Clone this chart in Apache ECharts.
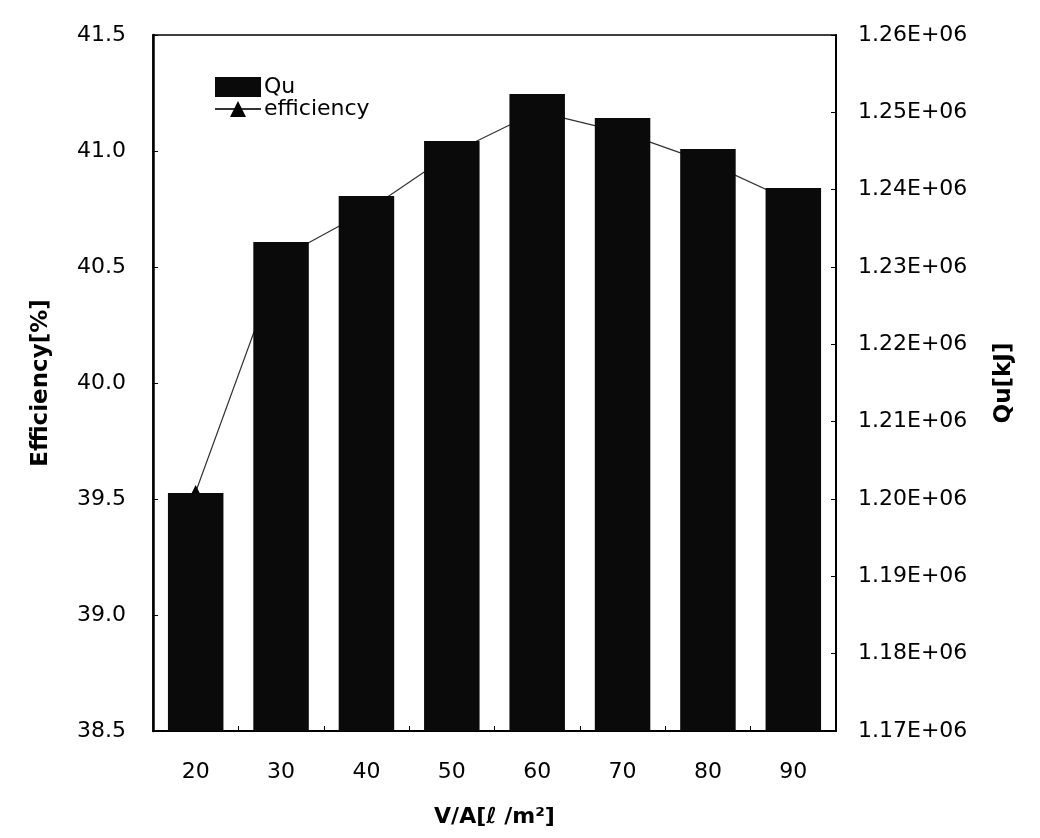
<!DOCTYPE html>
<html>
<head>
<meta charset="utf-8">
<script src="https://cdn.jsdelivr.net/npm/echarts@6/dist/echarts.min.js"></script>
<style>
html,body{margin:0;padding:0;background:#fff;}
#chart{width:1040px;height:838px;}
</style>
</head>
<body>
<div id="chart"></div>
<script>
const categories = ['20','30','40','50','60','70','80','90'];
const quValues = [1200780, 1233230, 1239180, 1246290, 1252370, 1249270, 1245260, 1240220];
const efficiencyValues = [39.53, 40.54, 40.74, 40.99, 41.17, 41.08, 40.95, 40.78];

const FONT = 'DejaVu Sans';
const chart = echarts.init(document.getElementById('chart'), null, {renderer: 'canvas'});
chart.setOption({
  backgroundColor: '#fff',
  animation: false,
  textStyle: {fontFamily: FONT, color: '#000'},
  grid: {left: 153, right: 204, top: 35, bottom: 107, show: true, borderColor: '#000', borderWidth: 1.5, backgroundColor: 'transparent'},
  legend: {
    orient: 'vertical', left: 209, top: 71, itemGap: 0,
    itemWidth: 46, itemHeight: 20,
    data: [{name: 'Qu', icon: 'rect'}, {name: 'efficiency'}],
    textStyle: {fontFamily: FONT, fontSize: 22, color: '#000', padding: [0,0,0,-2]}
  },
  xAxis: {
    type: 'category', data: categories,
    name: 'V/A[ℓ /m²]', nameLocation: 'middle', nameGap: 75,
    nameTextStyle: {fontFamily: FONT, fontSize: 22, fontWeight: 'bold', color: '#000'},
    axisLine: {lineStyle: {color: '#000', width: 2}},
    axisTick: {show: true, inside: true, length: 5, lineStyle: {color: '#000'}},
    axisLabel: {fontFamily: FONT, fontSize: 22, color: '#000', margin: 30}
  },
  yAxis: [
    {
      type: 'value', min: 38.5, max: 41.5, interval: 0.5, position: 'left',
      name: 'Efficiency[%]', nameLocation: 'middle', nameGap: 100, nameRotate: 90,
      nameTextStyle: {fontFamily: FONT, fontSize: 23, fontWeight: 'bold', color: '#000'},
      axisLine: {show: true, lineStyle: {color: '#000', width: 2.5}},
      axisTick: {show: true, inside: true, length: 5, lineStyle: {color: '#000'}},
      splitLine: {show: false},
      axisLabel: {fontFamily: FONT, fontSize: 22, color: '#000', margin: 27, formatter: v => v.toFixed(1)}
    },
    {
      type: 'value', min: 1170000, max: 1260000, interval: 10000, position: 'right',
      name: 'Qu[kJ]', nameLocation: 'middle', nameGap: 157, nameRotate: 90,
      nameTextStyle: {fontFamily: FONT, fontSize: 23, fontWeight: 'bold', color: '#000'},
      axisLine: {show: true, lineStyle: {color: '#000', width: 2}},
      axisTick: {show: true, inside: true, length: 5, lineStyle: {color: '#000'}},
      splitLine: {show: false},
      axisLabel: {fontFamily: FONT, fontSize: 22, color: '#000', margin: 22, formatter: v => (v/1e6).toFixed(2) + 'E+06'}
    }
  ],
  series: [
    {
      name: 'efficiency', type: 'line', yAxisIndex: 0, data: efficiencyValues,
      z: 1,
      symbol: 'triangle', symbolSize: 14,
      itemStyle: {color: '#000'},
      lineStyle: {color: '#333', width: 1.2}
    },
    {
      name: 'Qu', type: 'bar', yAxisIndex: 1, data: quValues,
      z: 3,
      barWidth: '65%',
      itemStyle: {color: '#0a0a0a'}
    }
  ]
});
</script>
</body>
</html>
